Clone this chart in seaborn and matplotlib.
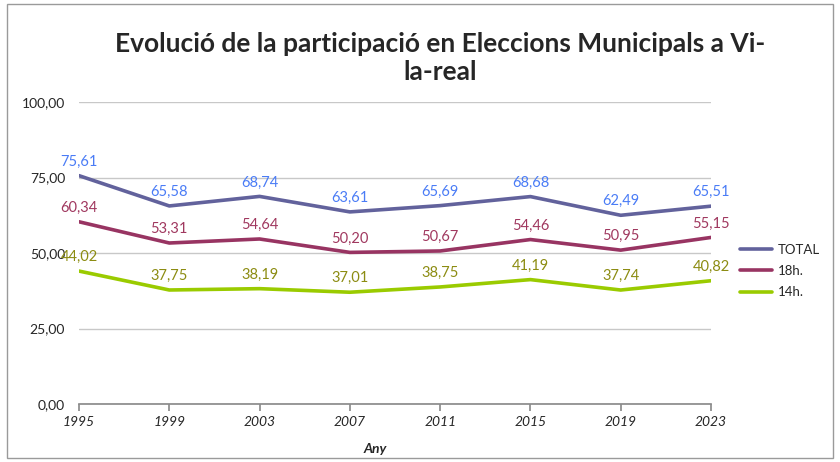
import matplotlib
matplotlib.use("Agg")
import matplotlib.pyplot as plt
import seaborn as sns
import pandas as pd
from matplotlib.patches import Rectangle
from matplotlib.lines import Line2D

years = [1995, 1999, 2003, 2007, 2011, 2015, 2019, 2023]
total = [75.61, 65.58, 68.74, 63.61, 65.69, 68.68, 62.49, 65.51]
h18 = [60.34, 53.31, 54.64, 50.20, 50.67, 54.46, 50.95, 55.15]
h14 = [44.02, 37.75, 38.19, 37.01, 38.75, 41.19, 37.74, 40.82]
series_names = ["TOTAL", "18h.", "14h."]
y_ticks = [0, 25, 50, 75, 100]

line_colors = {"TOTAL": "#62629c", "18h.": "#983462", "14h.": "#9acb00"}
label_colors = {"TOTAL": "#4a7cf6", "18h.": "#a0385f", "14h.": "#8c8c12"}

sns.set_theme(style="white")
plt.rcParams["font.family"] = ["Lato", "DejaVu Sans"]

df = pd.DataFrame({
    "Any": years * 3,
    "valor": total + h18 + h14,
    "serie": [series_names[0]] * 8 + [series_names[1]] * 8 + [series_names[2]] * 8,
})

fig = plt.figure(figsize=(8.4, 4.62), dpi=100)
ax = fig.add_axes([79 / 840, 1 - 404 / 462, (711 - 79) / 840, (404 - 102) / 462])

sns.lineplot(data=df, x="Any", y="valor", hue="serie", hue_order=series_names,
             palette=line_colors, linewidth=2.6, ax=ax, legend=False)

for name, vals in zip(series_names, [total, h18, h14]):
    for x, v in zip(years, vals):
        ax.annotate(f"{v:.2f}".replace(".", ","), (x, v), xytext=(0, 5),
                    textcoords="offset points", ha="center", va="bottom",
                    fontsize=10.5, color=label_colors[name], clip_on=False)

ax.set_xlim(1995, 2023)
ax.set_ylim(0, 100)
ax.set_xticks(years)
ax.set_xticklabels([str(y) for y in years], fontstyle="italic", fontsize=10)
ax.set_yticks(y_ticks)
ax.set_yticklabels([f"{t:.2f}".replace(".", ",") for t in y_ticks], fontsize=10)
ax.grid(axis="y", color="#c8c8c8", linewidth=1)
ax.grid(axis="x", visible=False)
for s in ["left", "right", "top"]:
    ax.spines[s].set_visible(False)
ax.spines["bottom"].set_color("#8c8c8c")
ax.tick_params(axis="x", length=5, color="#8c8c8c", direction="out", pad=4, bottom=True)
ax.tick_params(axis="y", length=0, pad=10)
ax.set_xlabel("Any", fontweight="bold", fontstyle="italic", fontsize=10)
ax.xaxis.set_label_coords((375 - 79) / 632, -0.13)
ax.set_ylabel("")

fig.text(440 / 840, 1 - 58 / 462, "Evolució de la participació en Eleccions Municipals a Vi-\nla-real",
         ha="center", va="center", fontsize=19, fontweight="bold", linespacing=1.25)

handles = [Line2D([0], [0], color=line_colors[n], linewidth=2.6) for n in series_names]
fig.legend(handles, series_names, loc="center left", bbox_to_anchor=(728 / 840, 1 - 271 / 462),
           frameon=False, fontsize=9.5, handlelength=2.4, handletextpad=0.5, labelspacing=0.7)

fig.add_artist(Rectangle((7 / 840, 4 / 462), 826 / 840, 454 / 462, transform=fig.transFigure,
                         fill=False, edgecolor="#9a9a9a", linewidth=1))

fig.savefig("out.png", dpi=100)
